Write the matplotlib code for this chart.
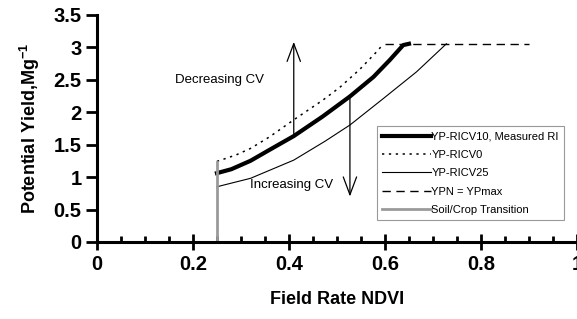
import numpy as np
import matplotlib.pyplot as plt
from matplotlib.ticker import MultipleLocator

plt.rcParams['font.family'] = ['Liberation Sans', 'DejaVu Sans']
plt.rcParams['mathtext.default'] = 'regular'

# curves (NDVI, potential yield)
cv10_x = [0.25, 0.28, 0.32, 0.36, 0.41, 0.47, 0.527, 0.576, 0.61, 0.638, 0.65]
cv10_y = [1.06, 1.12, 1.25, 1.42, 1.63, 1.93, 2.24, 2.54, 2.80, 3.03, 3.05]

cv0_x = [0.25, 0.29, 0.32, 0.36, 0.41, 0.47, 0.506, 0.548, 0.583, 0.597]
cv0_y = [1.24, 1.34, 1.44, 1.62, 1.88, 2.18, 2.38, 2.66, 2.93, 3.05]

cv25_x = [0.25, 0.32, 0.41, 0.475, 0.527, 0.597, 0.666, 0.728]
cv25_y = [0.85, 0.98, 1.26, 1.55, 1.80, 2.21, 2.62, 3.05]

ypmax_x = [0.60, 0.90]
ypmax_y = [3.05, 3.05]

trans_x = [0.25, 0.25]
trans_y = [0.0, 1.23]

fig = plt.figure(figsize=(5.77, 3.19), dpi=100)
ax = fig.add_axes([0.168, 0.2414, 0.832, 0.713])

ax.plot(cv10_x, cv10_y, color='black', lw=3, label='YP-RICV10, Measured RI')
ax.plot(cv0_x, cv0_y, color='black', lw=1.1, ls=(0, (1.5, 3)), label='YP-RICV0')
ax.plot(cv25_x, cv25_y, color='black', lw=0.8, label='YP-RICV25')
ax.plot(ypmax_x, ypmax_y, color='black', lw=1, ls=(0, (6, 4)), label='YPN = YPmax')
ax.plot(trans_x, trans_y, color='#9a9a9a', lw=2, label='Soil/Crop Transition')

# arrows
arr = dict(arrowstyle='->,head_length=0.8,head_width=0.3', lw=0.9, color='black',
           shrinkA=0, shrinkB=0, mutation_scale=16)
ax.annotate('', xy=(0.41, 3.08), xytext=(0.41, 1.63), arrowprops=arr)
ax.annotate('', xy=(0.527, 0.70), xytext=(0.527, 2.24), arrowprops=arr)
ax.text(0.163, 2.49, 'Decreasing CV', fontsize=9.5, va='center', ha='left')
ax.text(0.319, 0.88, 'Increasing CV', fontsize=9.5, va='center', ha='left')

ax.set_xlim(0, 1)
ax.set_ylim(0, 3.5)
ax.xaxis.set_minor_locator(MultipleLocator(0.05))
ax.set_xticks([0, 0.2, 0.4, 0.6, 0.8, 1.0])
ax.set_xticklabels(['0', '0.2', '0.4', '0.6', '0.8', '1'])
ax.set_yticks([0, 0.5, 1, 1.5, 2, 2.5, 3, 3.5])
ax.set_yticklabels(['0', '0.5', '1', '1.5', '2', '2.5', '3', '3.5'])

for s in ['top', 'right']:
    ax.spines[s].set_visible(False)
for s in ['left', 'bottom']:
    ax.spines[s].set_linewidth(2.2)

ax.tick_params(axis='x', which='major', direction='inout', length=11, width=2, pad=4)
ax.tick_params(axis='x', which='minor', direction='in', length=4.5, width=2)
ax.tick_params(axis='y', which='major', direction='out', length=8, width=2, pad=3)
ax.tick_params(labelsize=14.5)
for lab in ax.get_xticklabels() + ax.get_yticklabels():
    lab.set_fontweight('bold')

ax.set_xlabel('Field Rate NDVI', fontsize=13, fontweight='bold', labelpad=12)
ax.set_ylabel('Potential Yield,Mg$^{-1}$', fontsize=13, fontweight='bold', labelpad=8)

leg = ax.legend(loc='upper left', bbox_to_anchor=(0.583, 0.51), fontsize=8,
                frameon=True, fancybox=False, handlelength=4.4, handletextpad=0,
                borderpad=0.5, labelspacing=0.75, borderaxespad=0)
leg.get_frame().set_edgecolor('#808080')
leg.get_frame().set_linewidth(0.8)

plt.savefig('out.png', dpi=100)
